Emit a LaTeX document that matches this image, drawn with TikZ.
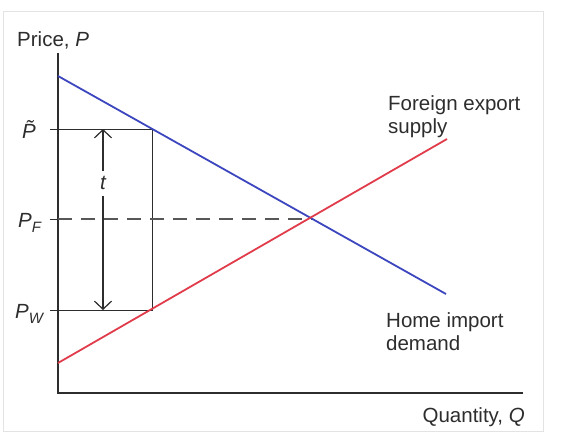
\documentclass[tikz,border=0pt]{standalone}
\usepackage{fontspec}
\setmainfont{Liberation Sans}
\usetikzlibrary{arrows.meta}
\definecolor{lineblue}{RGB}{60,70,190}
\definecolor{linered}{RGB}{225,60,75}
\definecolor{ink}{RGB}{45,45,45}
\tikzset{
  lbl/.style={font=\fontsize{20.5}{23}\selectfont, text=ink, inner sep=0pt},
  axis/.style={draw=ink, line width=2pt},
  thin/.style={draw=ink, line width=1pt},
  curve/.style={line width=1.8pt},
  dashline/.style={draw=ink!80, line width=1.1pt, dash pattern=on 14pt off 9pt},
}
\newcommand{\subl}[1]{\raisebox{-0.55ex}{\fontsize{15}{15}\selectfont\itshape #1}}
\begin{document}
\begin{tikzpicture}[x=1pt,y=-1pt]
\useasboundingbox (0,0) rectangle (563,439);
\fill[white] (0,0) rectangle (563,439);
\draw[gray!22, line width=1pt] (3,11) rectangle (543,431);
% coordinates
\coordinate (ytop) at (58,53);
\coordinate (origin) at (58,393);
\coordinate (xend) at (523,393);
\coordinate (dA) at (58,76);
\coordinate (dB) at (446,294);
\coordinate (sA) at (58,363);
\coordinate (sB) at (447,139);
\coordinate (eq) at (313,219);
\coordinate (tkT) at (50,129);
\coordinate (tkF) at (50,219);
\coordinate (tkW) at (50,310);
\coordinate (cT) at (152,129);
\coordinate (cW) at (152,310);
\coordinate (arT) at (103,129);
\coordinate (arW) at (103,310);
% axes
\draw[axis] (ytop) -- (origin) -- (xend);
% box and ticks
\draw[thin] (tkT) -- (cT) -- (cW) -- (tkW);
\draw[thin] (tkF) -- (58,219);
\draw[dashline] (58,219) -- (eq);
% t arrow
\node[lbl, font=\fontsize{20.5}{23}\selectfont\itshape] (t) at (103,183) {t};
\draw[thin, line width=1.2pt, -{Straight Barb[length=8pt,width=17pt]}] (t.north) ++(0,-5) -- (arT);
\draw[thin, line width=1.2pt, -{Straight Barb[length=8pt,width=17pt]}] (t.south) ++(0,6) -- (arW);
% curves
\draw[curve, lineblue] (dA) -- (dB);
\draw[curve, linered] (sA) -- (sB);
% labels
\node[lbl, anchor=base west] (price) at (17,46) {Price, \textit{P}};
\node[lbl, anchor=base west] (ptil) at (22,138) {\textit{\~P}};
\node[lbl, anchor=base west] (pf) at (18,227) {\textit{P}\subl{F}};
\node[lbl, anchor=base west] (pw) at (15,318) {\textit{P}\subl{W}};
\node[lbl, anchor=base west, align=left] (fes) at (388,133) {Foreign export\\supply};
\node[lbl, anchor=base west, align=left] (hid) at (386,350) {Home import\\demand};
\node[lbl, anchor=base east] (qty) at (525,422) {Quantity, \textit{Q}};
\end{tikzpicture}
\end{document}
